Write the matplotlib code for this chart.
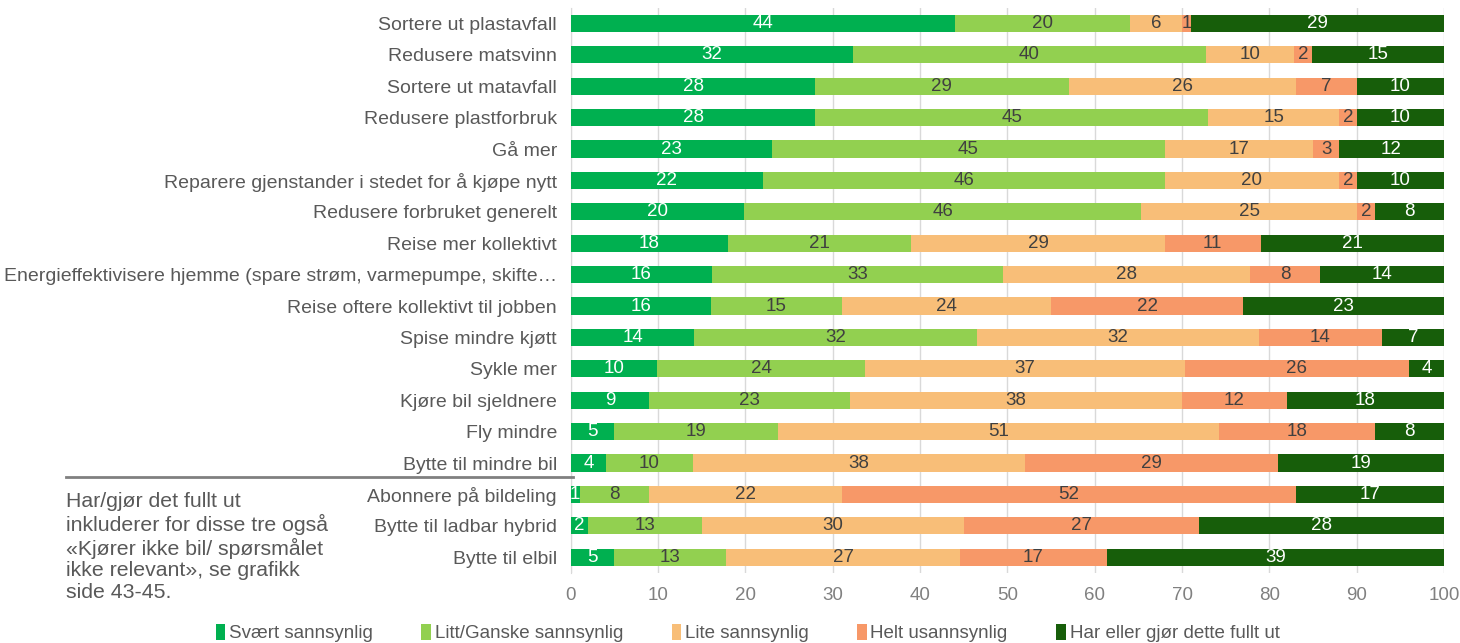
import matplotlib.pyplot as plt
import numpy as np

plt.rcParams['font.family'] = ['Liberation Sans', 'DejaVu Sans']

categories = [
    "Sortere ut plastavfall",
    "Redusere matsvinn",
    "Sortere ut matavfall",
    "Redusere plastforbruk",
    "Gå mer",
    "Reparere gjenstander i stedet for å kjøpe nytt",
    "Redusere forbruket generelt",
    "Reise mer kollektivt",
    "Energieffektivisere hjemme (spare strøm, varmepumpe, skifte…",
    "Reise oftere kollektivt til jobben",
    "Spise mindre kjøtt",
    "Sykle mer",
    "Kjøre bil sjeldnere",
    "Fly mindre",
    "Bytte til mindre bil",
    "Abonnere på bildeling",
    "Bytte til ladbar hybrid",
    "Bytte til elbil",
]

svaert = [44, 32, 28, 28, 23, 22, 20, 18, 16, 16, 14, 10, 9, 5, 4, 1, 2, 5]
litt = [20, 40, 29, 45, 45, 46, 46, 21, 33, 15, 32, 24, 23, 19, 10, 8, 13, 13]
lite = [6, 10, 26, 15, 17, 20, 25, 29, 28, 24, 32, 37, 38, 51, 38, 22, 30, 27]
helt = [1, 2, 7, 2, 3, 2, 2, 11, 8, 22, 14, 26, 12, 18, 29, 52, 27, 17]
har = [29, 15, 10, 10, 12, 10, 8, 21, 14, 23, 7, 4, 18, 8, 19, 17, 28, 39]

series_names = ["Svært sannsynlig", "Litt/Ganske sannsynlig", "Lite sannsynlig",
                "Helt usannsynlig", "Har eller gjør dette fullt ut"]
series = [svaert, litt, lite, helt, har]
colors = ["#00B050", "#92D050", "#F8BE78", "#F79868", "#175E0A"]
label_colors = ["white", "#404040", "#404040", "#404040", "white"]

fig = plt.figure(figsize=(14.6, 6.43), dpi=100)
ax = fig.add_axes([0.391, 0.109, 0.598, 0.879])

# rounded labels don't always add to 100, the bars still fill the row
totals = np.sum(np.array(series, dtype=float), axis=0)

y = np.arange(len(categories))
left = np.zeros(len(categories))
for vals, name, col, lc in zip(series, series_names, colors, label_colors):
    widths = np.array(vals, dtype=float) / totals * 100
    bars = ax.barh(y, widths, left=left, height=0.55, color=col, label=name, zorder=3)
    ax.bar_label(bars, labels=[str(v) for v in vals], label_type='center',
                 color=lc, fontsize=13.5)
    left += widths

ax.set_xlim(0, 100)
ax.set_ylim(len(categories) - 0.5, -0.5)
ax.set_xticks(range(0, 101, 10))
ax.set_yticks(y)
ax.set_yticklabels(categories, fontsize=14, color="#595959")
ax.tick_params(axis='x', colors="#808080", labelsize=13.5, length=0, pad=10)
ax.tick_params(axis='y', length=0, pad=10)
ax.grid(axis='x', color="#D9D9D9", linewidth=1, zorder=0)
for s in ['top', 'right', 'bottom']:
    ax.spines[s].set_visible(False)
ax.spines['left'].set_color("#D9D9D9")

fig.legend(*ax.get_legend_handles_labels(), loc='center',
           bbox_to_anchor=(0.512, 1 - 633 / 643), ncol=5, frameon=False,
           fontsize=13.5, handlelength=0.5, handleheight=1.0, handletextpad=0.2,
           columnspacing=2.6, labelcolor="#595959", borderpad=0)

fig.add_artist(plt.Line2D([66 / 1460, 573 / 1460], [1 - 477 / 643, 1 - 477 / 643],
                          color="#808080", linewidth=2))
fig.text(66 / 1460, 1 - 492 / 643,
         "Har/gjør det fullt ut\ninkluderer for disse tre også\n«Kjører ikke bil/ spørsmålet\nikke relevant», se grafikk\nside 43-45.",
         fontsize=15.3, color="#595959", va='top', ha='left', linespacing=1.17)

fig.savefig("out.png", dpi=100)
